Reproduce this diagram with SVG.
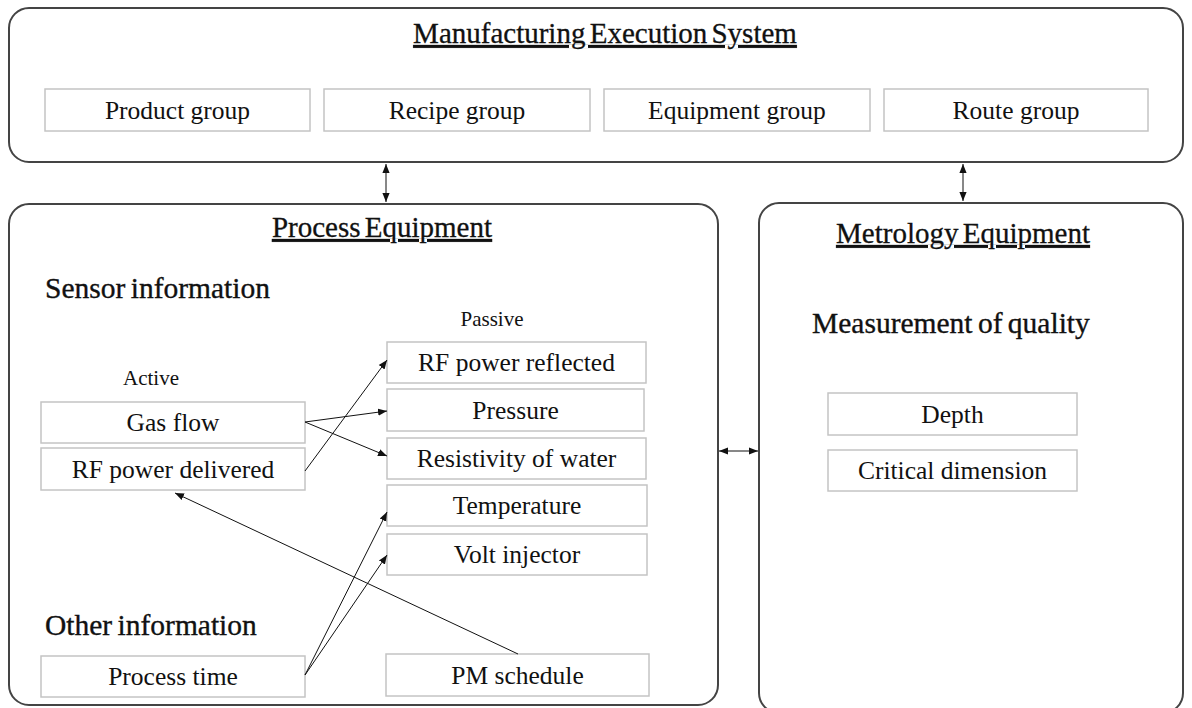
<svg xmlns="http://www.w3.org/2000/svg" width="1192" height="708" viewBox="0 0 1192 708">
<defs>
<style>
.panel{fill:#fff;stroke:#444;stroke-width:2}
.box{fill:#fff;stroke:#c4c4c4;stroke-width:1.5}
.t{font-family:"Liberation Serif","DejaVu Serif",serif;font-size:25.5px;fill:#111;text-anchor:middle}
.s{font-family:"Liberation Serif","DejaVu Serif",serif;font-size:21px;fill:#111;text-anchor:middle}
.h{font-family:"Liberation Serif","DejaVu Serif",serif;font-size:29.5px;fill:#111;stroke:#111;stroke-width:0.35px;word-spacing:-2px}
.ti{font-family:"Liberation Serif","DejaVu Serif",serif;font-size:29px;fill:#111;stroke:#111;stroke-width:0.3px;text-anchor:middle;text-decoration:underline;word-spacing:-3px}
.c{stroke:#111;stroke-width:1;fill:none}
</style>
<marker id="ah" viewBox="0 0 10 10" refX="10" refY="5" markerWidth="9" markerHeight="9" markerUnits="userSpaceOnUse" orient="auto-start-reverse">
<path d="M0,1 L10,5 L0,9 z" fill="#111"/>
</marker>
</defs>
<rect width="1192" height="708" fill="#fff"/>
<g id="mes">
<rect class="panel" x="9" y="8" width="1174" height="154" rx="20"/>
<text class="ti" x="605" y="43" font-size="28.5">Manufacturing Execution System</text>
</g>
<g id="product-group"><rect class="box" x="45" y="89" width="265" height="42"/><text class="t" x="177.5" y="119">Product group</text></g>
<g id="recipe-group"><rect class="box" x="324" y="89" width="266" height="42"/><text class="t" x="457" y="119">Recipe group</text></g>
<g id="equipment-group"><rect class="box" x="604" y="89" width="266" height="42"/><text class="t" x="737" y="119">Equipment  group</text></g>
<g id="route-group"><rect class="box" x="884" y="89" width="264" height="42"/><text class="t" x="1016" y="119">Route group</text></g>
<g id="process-equipment">
<rect class="panel" x="9" y="204" width="709" height="501" rx="20"/>
<text class="ti" x="382" y="237">Process Equipment</text>
<text class="h" x="45" y="298">Sensor information</text>
<text class="s" x="492" y="326">Passive</text>
<text class="s" x="151" y="385">Active</text>
<text class="h" x="45" y="635">Other information</text>
</g>
<g id="metrology-equipment">
<rect class="panel" x="759" y="203" width="424" height="510" rx="20"/>
<text class="ti" x="963" y="243">Metrology Equipment</text>
<text class="h" x="812" y="333">Measurement of quality</text>
</g>
<g id="gas-flow"><rect class="box" x="41" y="402" width="264" height="41"/><text class="t" x="173" y="431">Gas flow</text></g>
<g id="rf-power-delivered"><rect class="box" x="41" y="448" width="264" height="42"/><text class="t" x="173" y="478">RF power delivered</text></g>
<g id="process-time"><rect class="box" x="41" y="656" width="264" height="41"/><text class="t" x="173" y="685">Process time</text></g>
<g id="rf-power-reflected"><rect class="box" x="387" y="342" width="259" height="41"/><text class="t" x="516.5" y="371">RF power reflected</text></g>
<g id="pressure"><rect class="box" x="387" y="389" width="257" height="42"/><text class="t" x="515.5" y="419">Pressure</text></g>
<g id="resistivity"><rect class="box" x="387" y="438" width="259" height="41"/><text class="t" x="516.5" y="467">Resistivity of water</text></g>
<g id="temperature"><rect class="box" x="387" y="485" width="260" height="41"/><text class="t" x="517" y="514">Temperature</text></g>
<g id="volt-injector"><rect class="box" x="387" y="534" width="260" height="41"/><text class="t" x="517" y="563">Volt injector</text></g>
<g id="pm-schedule"><rect class="box" x="386" y="654" width="263" height="42"/><text class="t" x="517.5" y="684">PM schedule</text></g>
<g id="depth"><rect class="box" x="828" y="393" width="249" height="42"/><text class="t" x="952.5" y="423">Depth</text></g>
<g id="critical-dimension"><rect class="box" x="828" y="450" width="249" height="41"/><text class="t" x="952.5" y="479">Critical dimension</text></g>
<g id="connectors">
<line class="c" x1="386" y1="164" x2="386" y2="202" marker-start="url(#ah)" marker-end="url(#ah)"/>
<line class="c" x1="963" y1="164" x2="963" y2="201" marker-start="url(#ah)" marker-end="url(#ah)"/>
<line class="c" x1="719" y1="451" x2="758" y2="451" marker-start="url(#ah)" marker-end="url(#ah)"/>
<line class="c" x1="305" y1="422" x2="387" y2="411" marker-end="url(#ah)"/>
<line class="c" x1="305" y1="422" x2="387" y2="456" marker-end="url(#ah)"/>
<line class="c" x1="305" y1="471" x2="387" y2="360" marker-end="url(#ah)"/>
<line class="c" x1="305" y1="675" x2="387" y2="512" marker-end="url(#ah)"/>
<line class="c" x1="305" y1="675" x2="387" y2="555" marker-end="url(#ah)"/>
<line class="c" x1="518" y1="654" x2="175" y2="493" marker-end="url(#ah)"/>
</g>
</svg>
